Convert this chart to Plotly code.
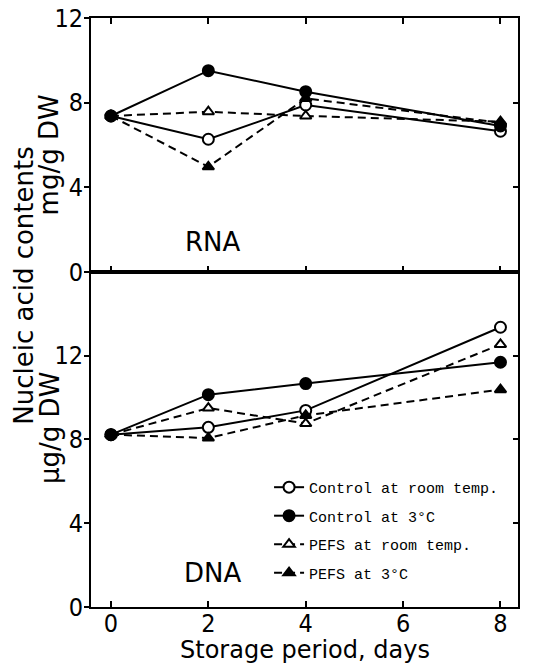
import plotly.graph_objects as go
from plotly.subplots import make_subplots

days = [0, 2, 4, 8]
series_names = ["Control at room temp.", "Control at 3°C", "PEFS at room temp.", "PEFS at 3°C"]

rna_control_room = [7.37, 6.27, 7.89, 6.65]
rna_control_3c = [7.37, 9.51, 8.52, 6.9]
rna_pefs_room = [7.37, 7.57, 7.37, 7.1]
rna_pefs_3c = [7.37, 4.97, 8.2, 7.05]

dna_control_room = [8.23, 8.58, 9.39, 13.36]
dna_control_3c = [8.23, 10.14, 10.67, 11.69]
dna_pefs_room = [8.23, 9.5, 8.76, 12.54]
dna_pefs_3c = [8.23, 8.07, 9.15, 10.38]

x_ticks = [0, 2, 4, 6, 8]
y_ticks = [0, 4, 8, 12]

TICKFONT = "Liberation Sans Narrow, DejaVu Sans Condensed, Arial Narrow, sans-serif"
LABELFONT = "DejaVu Sans, sans-serif"
MONO = "Liberation Mono, Courier New, monospace"

styles = [
    dict(symbol="circle", fill="white", dash="solid"),
    dict(symbol="circle", fill="black", dash="solid"),
    dict(symbol="triangle-up", fill="white", dash="8px,5px"),
    dict(symbol="triangle-up", fill="black", dash="8px,5px"),
]

fig = make_subplots(rows=2, cols=1, shared_xaxes=True, vertical_spacing=0,
                    row_heights=[0.4312, 0.5688])

rna = [rna_control_room, rna_control_3c, rna_pefs_room, rna_pefs_3c]
dna = [dna_control_room, dna_control_3c, dna_pefs_room, dna_pefs_3c]

for i, (name, st) in enumerate(zip(series_names, styles)):
    for row, data, show in [(1, rna, False), (2, dna, True)]:
        fig.add_trace(go.Scatter(
            x=days, y=data[i], mode="lines+markers", name=name,
            legendgroup=f"g{i}", showlegend=show,
            line=dict(color="black", width=2, dash=st["dash"]),
            marker=dict(symbol=st["symbol"], size=11 if "circle" in st["symbol"] else 10,
                        color=st["fill"], line=dict(color="black", width=2)),
        ), row=row, col=1)

# empty helper traces so that the right-hand tick axes are drawn
fig.add_trace(go.Scatter(x=[], y=[], xaxis="x", yaxis="y3", showlegend=False, hoverinfo="skip"))
fig.add_trace(go.Scatter(x=[], y=[], xaxis="x2", yaxis="y4", showlegend=False, hoverinfo="skip"))

axis_common = dict(showline=True, linecolor="black", linewidth=2, showgrid=False,
                   zeroline=False, tickcolor="black", tickwidth=2, automargin=False,
                   tickfont=dict(family=TICKFONT, size=25, color="black"))

fig.update_xaxes(range=[-0.41, 8.36], tickvals=x_ticks, ticks="inside", ticklen=6,
                 ticklabelstandoff=-7, **axis_common)
fig.update_xaxes(mirror="ticks", row=1, col=1)
fig.update_xaxes(mirror=True, row=2, col=1)
fig.update_yaxes(tickvals=y_ticks, ticks="outside", ticklen=5, mirror=True,
                 ticklabelstandoff=-4, ticklabeloverflow="allow", **axis_common)
fig.update_yaxes(range=[0, 12], row=1, col=1)
fig.update_yaxes(range=[0, 16], row=2, col=1)

right_axis = dict(side="right", showline=False, showgrid=False, zeroline=False,
                  ticks="inside", ticklen=5, tickwidth=2, tickcolor="black",
                  showticklabels=False, tickvals=y_ticks, automargin=False)

fig.update_layout(
    width=548, height=663,
    margin=dict(l=83, r=38, t=10, b=64),
    plot_bgcolor="white", paper_bgcolor="white",
    font=dict(family=LABELFONT, color="black"),
    legend=dict(x=0.417, y=0.231, xanchor="left", yanchor="top",
                font=dict(family=MONO, size=15, color="black"),
                bgcolor="rgba(0,0,0,0)", tracegroupgap=6, itemwidth=30),
    yaxis3=dict(overlaying="y", range=[0, 12], **right_axis),
    yaxis4=dict(overlaying="y2", range=[0, 16], **right_axis),
)

ann = dict(showarrow=False, font=dict(family=LABELFONT, size=26, color="black"))
fig.add_annotation(text="Storage period, days", xref="paper", yref="paper",
                   x=0.5, y=-0.073, xanchor="center", yanchor="middle",
                   showarrow=False, font=dict(family=LABELFONT, size=24, color="black"))
fig.add_annotation(text="Nucleic acid contents", xref="paper", yref="paper",
                   x=-0.157, y=0.547, textangle=-90, xanchor="center", yanchor="middle", **ann)
fig.add_annotation(text="mg/g DW", xref="paper", yref="paper",
                   x=-0.098, y=0.767, textangle=-90, xanchor="center", yanchor="middle", **ann)
fig.add_annotation(text="μg/g DW", xref="paper", yref="paper",
                   x=-0.096, y=0.304, textangle=-90, xanchor="center", yanchor="middle", **ann)
fig.add_annotation(text="RNA", x=2.09, y=1.42, xref="x", yref="y", **ann)
fig.add_annotation(text="DNA", x=2.09, y=1.62, xref="x2", yref="y2", **ann)

fig.write_html("out.html")
